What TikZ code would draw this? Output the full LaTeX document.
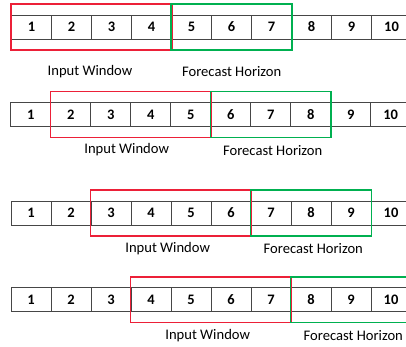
\documentclass[tikz,border=0pt]{standalone}
\usepackage{fontspec}
\setmainfont{Carlito}
\usetikzlibrary{fit}
\definecolor{winred}{RGB}{236,32,56}
\definecolor{wingreen}{RGB}{0,176,80}
\definecolor{cellline}{RGB}{70,70,70}
\tikzset{
  cellbox/.style={draw=cellline, line width=0.8pt, minimum width=40pt, minimum height=24pt, inner sep=0pt, font=\fontsize{14.5}{17}\selectfont\bfseries},
  inbox/.style={draw=winred, line width=1.4pt, inner xsep=0pt, inner ysep=10.5pt},
  fcbox/.style={draw=wingreen, line width=1.4pt, inner xsep=0pt, inner ysep=10.5pt},
  lbl/.style={font=\fontsize{14.6}{17}\selectfont, inner sep=0pt}
}
\begin{document}
\begin{tikzpicture}[x=1pt,y=-1pt]
\useasboundingbox (0,0) rectangle (406,347);
% rows of cells: row index, left edge, vertical centre
\foreach \r/\xl/\yc in {1/11.5/27, 2/10.7/114.7, 3/11/213, 4/11/299.7}{
  \foreach \c in {1,...,10}{
    \node[cellbox] (r\r c\c) at ({\xl+40*\c-20},\yc) {\c};
  }
}
% row 1
\node[inbox, fit=(r1c1)(r1c4)] (in1) {};
\node[fcbox, fit=(r1c5)(r1c7)] (fc1) {};
% row 2
\node[inbox, fit=(r2c2)(r2c5)] (in2) {};
\node[fcbox, fit=(r2c6)(r2c8)] (fc2) {};
% row 3
\node[inbox, fit=(r3c3)(r3c6)] (in3) {};
\node[fcbox, fit=(r3c7)(r3c9)] (fc3) {};
% row 4
\node[inbox, fit=(r4c4)(r4c7)] (in4) {};
\node[fcbox, fit=(r4c8)(r4c10)] (fc4) {};
% labels
\node[lbl] (l1a) at (90,71.7) {Input Window};
\node[lbl] (l1b) at (231.7,71.7) {Forecast Horizon};
\node[lbl] (l2a) at (126.7,149.8) {Input Window};
\node[lbl] (l2b) at (272.7,150.3) {Forecast Horizon};
\node[lbl] (l3a) at (167.7,249) {Input Window};
\node[lbl] (l3b) at (313.3,248.5) {Forecast Horizon};
\node[lbl] (l4a) at (207.7,336) {Input Window};
\node[lbl] (l4b) at (353.3,335.5) {Forecast Horizon};
\end{tikzpicture}
\end{document}
